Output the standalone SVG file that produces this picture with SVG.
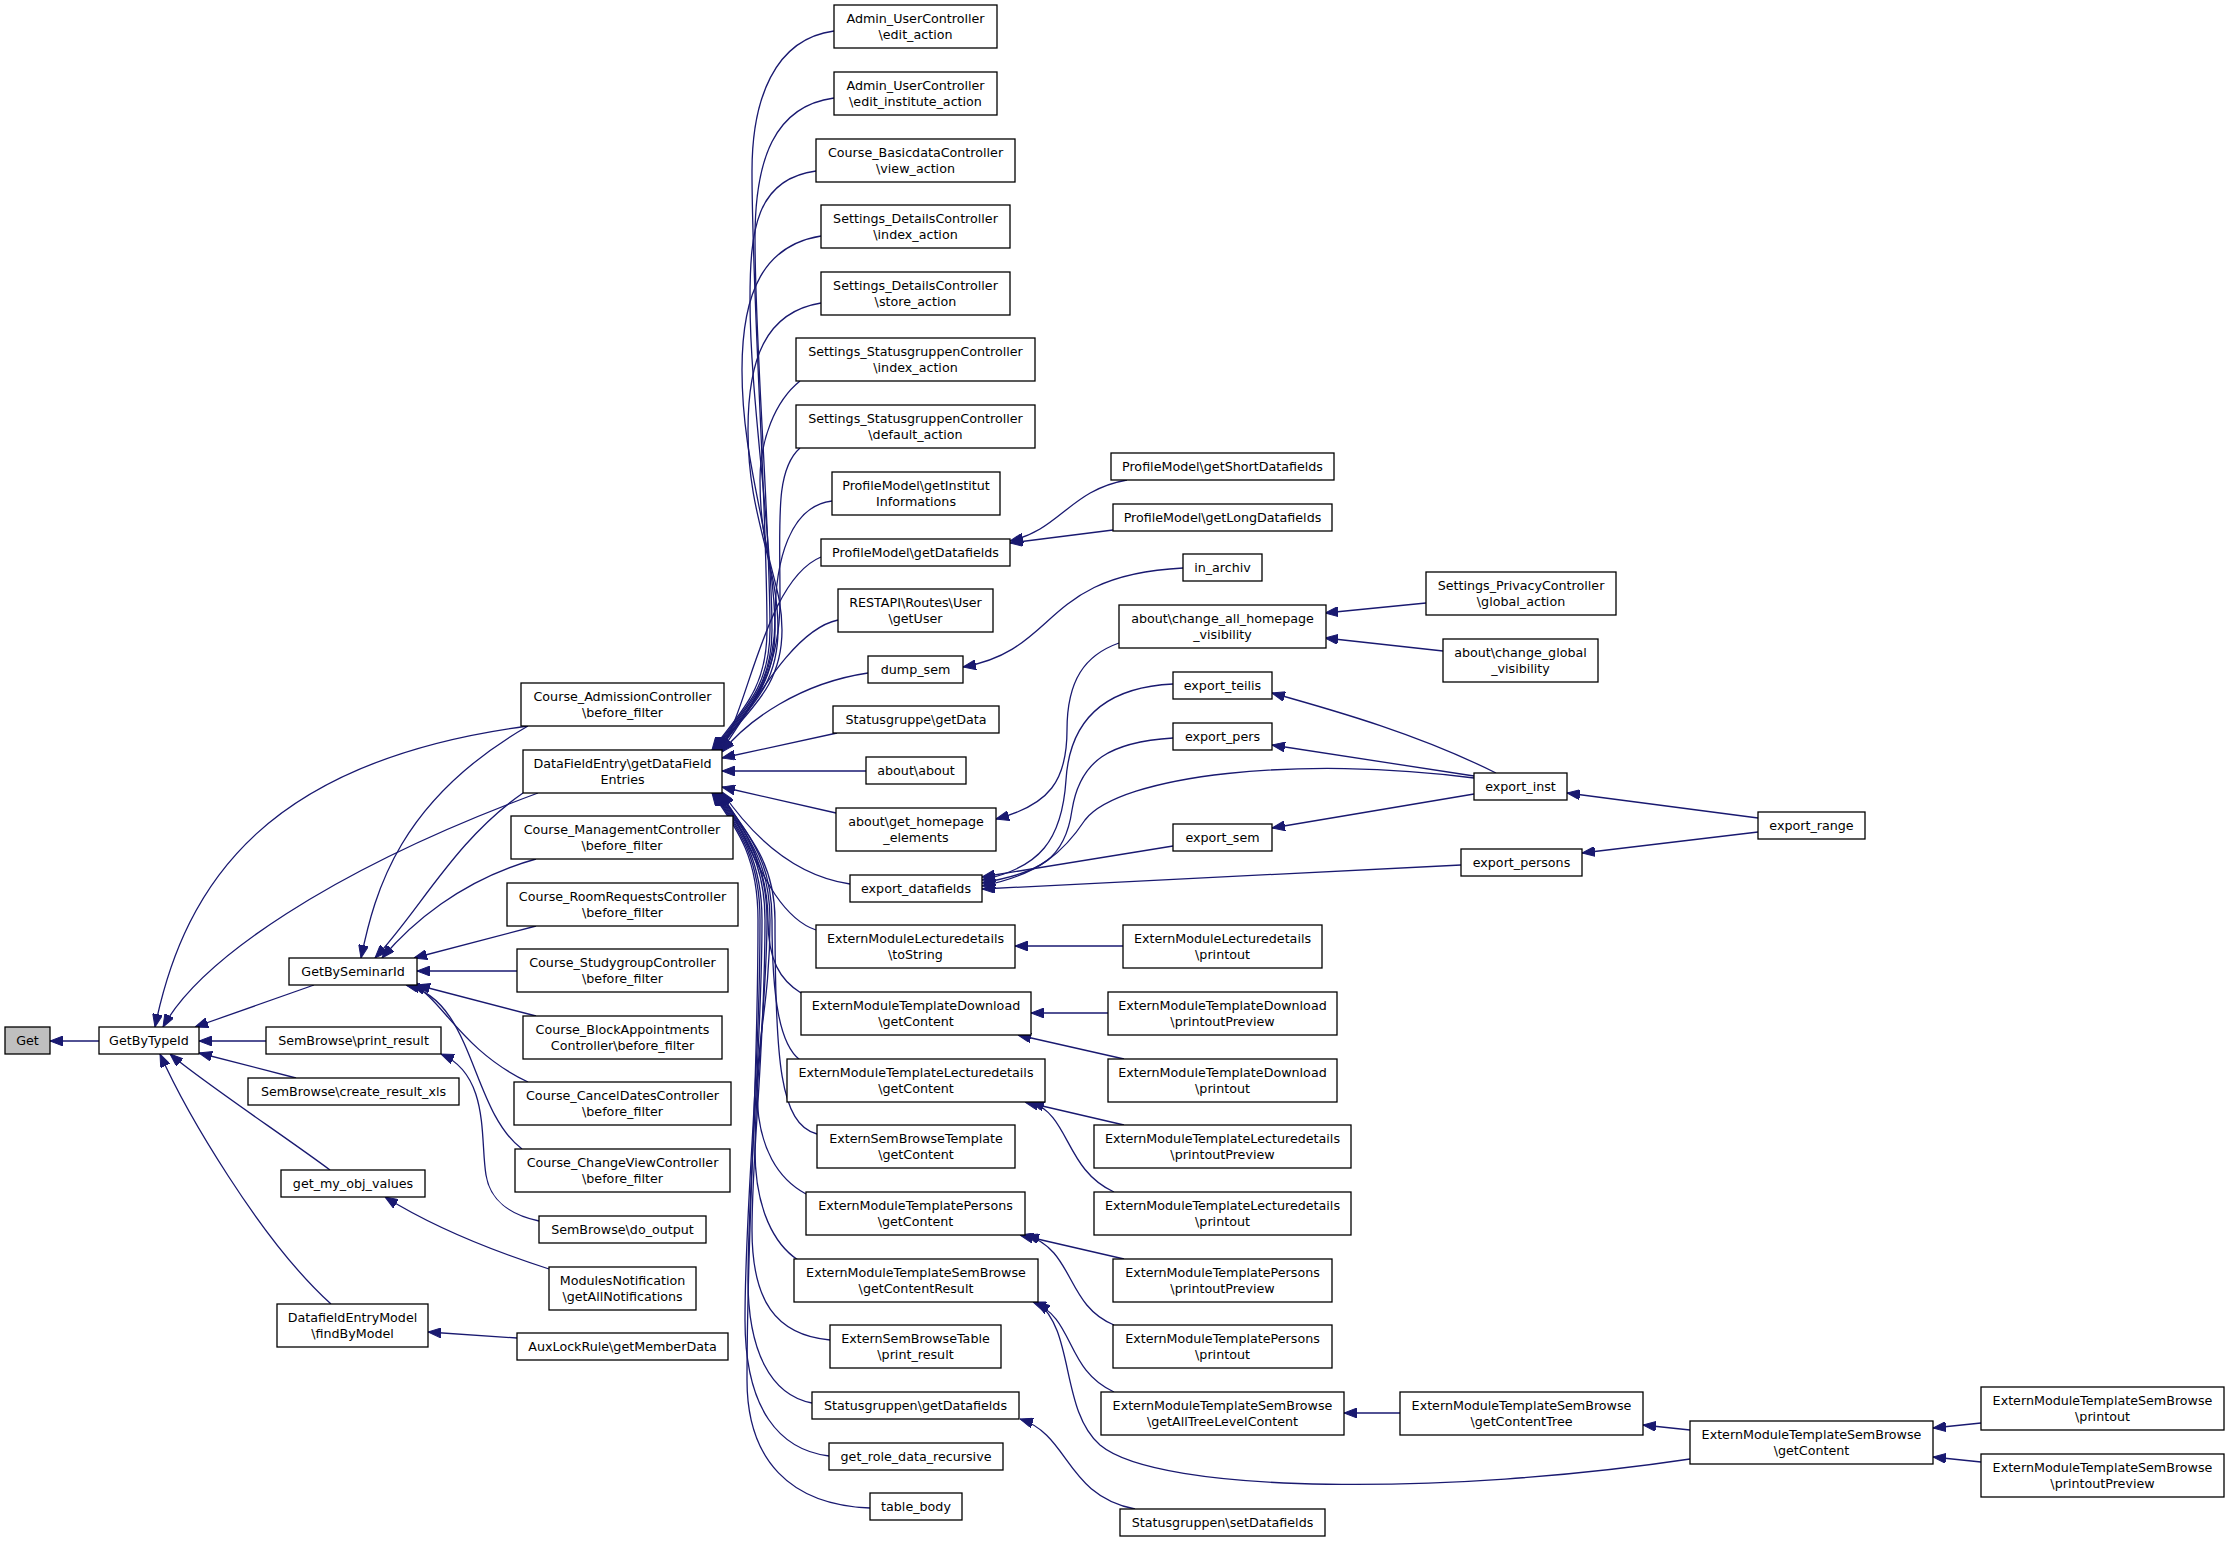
<svg xmlns="http://www.w3.org/2000/svg" width="2229" height="1541" viewBox="0 0 2229 1541">
<style>
.n rect{fill:#ffffff;stroke:#000000;stroke-width:1.3}
.n text{font-family:"DejaVu Sans","Liberation Sans",sans-serif;font-size:12.7px;text-anchor:middle;fill:#000000}
#edges path{fill:none;stroke:#191970;stroke-width:1.3;marker-start:url(#ah)}
</style>
<defs>
<marker id="ah" viewBox="0 0 13 10" refX="13" refY="5" markerWidth="13" markerHeight="10" markerUnits="userSpaceOnUse" orient="auto-start-reverse">
<path d="M0,0 L13,5 L0,10 z" fill="#191970" stroke="#191970" stroke-width="1"/>
</marker>
</defs>
<rect x="0" y="0" width="2229" height="1541" fill="#ffffff"/>
<g id="edges">
<path d="M50,1041 L99,1041"/>
<path d="M155,1027 C185,880 270,760 528,726"/>
<path d="M163,1027 C200,960 330,870 538,793"/>
<path d="M195,1027 L314,985"/>
<path d="M199,1041 L266,1041"/>
<path d="M199,1053 L296,1078"/>
<path d="M170,1054 C200,1080 290,1140 330,1170"/>
<path d="M160,1054 C185,1110 260,1240 331,1304"/>
<path d="M361,958 C375,890 400,800 528,726"/>
<path d="M375,958 C420,910 455,840 523,793"/>
<path d="M382,958 C410,925 460,880 536,859"/>
<path d="M414,958 L536,926"/>
<path d="M417,971 L517,971"/>
<path d="M417,985 L536,1016"/>
<path d="M412,985 C440,995 460,1050 528,1082"/>
<path d="M406,985 C475,1000 470,1110 522,1149"/>
<path d="M441,1054 C490,1075 480,1140 486,1175 C490,1200 510,1215 539,1221"/>
<path d="M385,1197 C430,1225 490,1250 549,1269"/>
<path d="M428,1332 L517,1338"/>
<path d="M712,750 C740,712 767,690 767,630 C767,500 752,300 752,171 C752,100 774,39 834,31"/>
<path d="M713,750 C741,712 770,690 770,630 C770,520 755,350 755,238 C755,160 774,106 834,98"/>
<path d="M714,750 C742,712 772,690 772,630 C772,530 750,400 750,300 C750,230 756,179 816,171"/>
<path d="M715,750 C743,712 775,690 775,630 C775,540 742,470 742,370 C742,290 765,245 821,236"/>
<path d="M716,750 C744,712 778,690 778,630 C778,560 748,520 748,430 C748,360 765,312 821,303"/>
<path d="M717,750 C745,712 782,690 782,630 C782,580 760,560 760,480 C760,440 775,401 800,381"/>
<path d="M718,750 C746,712 780,680 780,600 C780,520 775,470 800,448"/>
<path d="M719,750 C747,712 775,680 775,620 C775,560 790,506 832,501"/>
<path d="M720,750 C748,712 765,580 821,557"/>
<path d="M721,751 C748,715 790,630 838,620"/>
<path d="M722,752 C748,720 800,683 868,673"/>
<path d="M722,758 L837,733"/>
<path d="M722,771 L866,771"/>
<path d="M722,787 L836,813"/>
<path d="M722,792 C748,830 790,875 850,884"/>
<path d="M721,793 C748,835 770,915 816,930"/>
<path d="M720,793 C748,832 768,870 768,920 C768,960 780,980 801,993"/>
<path d="M719,793 C747,832 772,860 772,920 C772,1000 780,1045 800,1060"/>
<path d="M718,793 C746,832 775,860 775,920 C775,1060 780,1125 817,1134"/>
<path d="M717,793 C745,832 770,860 770,920 C770,1000 757,1040 757,1090 C757,1150 780,1180 806,1194"/>
<path d="M716,793 C744,832 767,860 767,920 C767,1000 755,1080 755,1150 C755,1210 775,1245 798,1260"/>
<path d="M715,793 C743,832 765,860 765,920 C765,1050 752,1150 752,1230 C752,1300 775,1335 830,1340"/>
<path d="M714,793 C742,832 762,860 762,920 C762,1050 748,1180 748,1280 C748,1350 770,1395 812,1403"/>
<path d="M713,793 C741,832 760,860 760,920 C760,1080 745,1200 745,1320 C745,1410 780,1450 829,1456"/>
<path d="M712,793 C740,832 758,860 758,920 C758,1100 747,1220 747,1380 C747,1460 790,1505 870,1508"/>
<path d="M1010,541 C1060,530 1070,490 1127,480"/>
<path d="M1010,543 L1113,530"/>
<path d="M963,667 C1060,650 1040,575 1183,568"/>
<path d="M996,819 C1050,805 1067,780 1067,730 C1067,680 1085,655 1119,643"/>
<path d="M1325,613 L1426,603"/>
<path d="M1325,638 L1443,651"/>
<path d="M982,880 C1040,868 1062,840 1066,780 C1070,715 1110,687 1173,684"/>
<path d="M982,883 C1040,872 1065,860 1072,810 C1080,760 1110,742 1173,738"/>
<path d="M982,886 C1040,875 1065,850 1085,820 C1120,775 1300,755 1474,778"/>
<path d="M982,877 L1173,846"/>
<path d="M982,889 L1461,865"/>
<path d="M1272,693 C1340,712 1420,735 1496,773"/>
<path d="M1272,745 L1474,776"/>
<path d="M1272,828 L1474,794"/>
<path d="M1567,793 L1758,818"/>
<path d="M1582,853 L1758,832"/>
<path d="M1015,946 L1123,946"/>
<path d="M1031,1013 L1108,1013"/>
<path d="M1018,1035 L1124,1059"/>
<path d="M1025,1102 L1124,1125"/>
<path d="M1031,1102 C1070,1115 1065,1170 1114,1192"/>
<path d="M1020,1235 L1124,1259"/>
<path d="M1026,1235 C1075,1250 1065,1305 1114,1325"/>
<path d="M1033,1302 C1075,1318 1065,1370 1114,1392"/>
<path d="M1037,1302 C1075,1330 1060,1410 1100,1445 C1160,1495 1450,1495 1690,1459"/>
<path d="M1344,1413 L1400,1413"/>
<path d="M1643,1425 L1690,1430"/>
<path d="M1933,1428 L1981,1423"/>
<path d="M1933,1457 L1981,1462"/>
<path d="M1020,1419 C1070,1435 1065,1495 1135,1509"/>
</g>
<g id="n_get" class="n"><rect x="5" y="1027" width="45" height="27" style="fill:#bfbfbf"/><text x="27.5" y="1045">Get</text></g>
<g id="n_getbytypeid" class="n"><rect x="99" y="1027" width="100" height="27"/><text x="149" y="1045">GetByTypeId</text></g>
<g id="n_getbyseminarid" class="n"><rect x="289" y="958" width="128" height="27"/><text x="353" y="976">GetBySeminarId</text></g>
<g id="n_sb_print_result" class="n"><rect x="266" y="1027" width="175" height="27"/><text x="353.5" y="1045">SemBrowse\print_result</text></g>
<g id="n_sb_create_xls" class="n"><rect x="248" y="1078" width="211" height="27"/><text x="353.5" y="1096">SemBrowse\create_result_xls</text></g>
<g id="n_get_my_obj" class="n"><rect x="281" y="1170" width="144" height="27"/><text x="353" y="1188">get_my_obj_values</text></g>
<g id="n_dfemodel" class="n"><rect x="277" y="1304" width="151" height="43"/><text x="352.5" y="1322">DatafieldEntryModel</text><text x="352.5" y="1337.5">\findByModel</text></g>
<g id="n_c_admission" class="n"><rect x="521" y="683" width="203" height="43"/><text x="622.5" y="701">Course_AdmissionController</text><text x="622.5" y="716.5">\before_filter</text></g>
<g id="n_dfe" class="n"><rect x="523" y="750" width="199" height="43"/><text x="622.5" y="768">DataFieldEntry\getDataField</text><text x="622.5" y="783.5">Entries</text></g>
<g id="n_c_management" class="n"><rect x="511" y="816" width="222" height="43"/><text x="622" y="834">Course_ManagementController</text><text x="622" y="849.5">\before_filter</text></g>
<g id="n_c_roomreq" class="n"><rect x="507" y="883" width="231" height="43"/><text x="622.5" y="901">Course_RoomRequestsController</text><text x="622.5" y="916.5">\before_filter</text></g>
<g id="n_c_studygroup" class="n"><rect x="517" y="949" width="211" height="43"/><text x="622.5" y="967">Course_StudygroupController</text><text x="622.5" y="982.5">\before_filter</text></g>
<g id="n_c_blockapp" class="n"><rect x="523" y="1016" width="199" height="43"/><text x="622.5" y="1034">Course_BlockAppointments</text><text x="622.5" y="1049.5">Controller\before_filter</text></g>
<g id="n_c_canceldates" class="n"><rect x="514" y="1082" width="217" height="43"/><text x="622.5" y="1100">Course_CancelDatesController</text><text x="622.5" y="1115.5">\before_filter</text></g>
<g id="n_c_changeview" class="n"><rect x="515" y="1149" width="215" height="43"/><text x="622.5" y="1167">Course_ChangeViewController</text><text x="622.5" y="1182.5">\before_filter</text></g>
<g id="n_sb_do_output" class="n"><rect x="539" y="1216" width="167" height="27"/><text x="622.5" y="1234">SemBrowse\do_output</text></g>
<g id="n_modnotif" class="n"><rect x="549" y="1267" width="147" height="43"/><text x="622.5" y="1285">ModulesNotification</text><text x="622.5" y="1300.5">\getAllNotifications</text></g>
<g id="n_auxlock" class="n"><rect x="517" y="1333" width="211" height="27"/><text x="622.5" y="1351">AuxLockRule\getMemberData</text></g>
<g id="n_admin_edit" class="n"><rect x="834" y="5" width="163" height="43"/><text x="915.5" y="23">Admin_UserController</text><text x="915.5" y="38.5">\edit_action</text></g>
<g id="n_admin_edit_inst" class="n"><rect x="834" y="72" width="163" height="43"/><text x="915.5" y="90">Admin_UserController</text><text x="915.5" y="105.5">\edit_institute_action</text></g>
<g id="n_basicdata" class="n"><rect x="816" y="139" width="199" height="43"/><text x="915.5" y="157">Course_BasicdataController</text><text x="915.5" y="172.5">\view_action</text></g>
<g id="n_sd_index" class="n"><rect x="821" y="205" width="189" height="43"/><text x="915.5" y="223">Settings_DetailsController</text><text x="915.5" y="238.5">\index_action</text></g>
<g id="n_sd_store" class="n"><rect x="821" y="272" width="189" height="43"/><text x="915.5" y="290">Settings_DetailsController</text><text x="915.5" y="305.5">\store_action</text></g>
<g id="n_sg_index" class="n"><rect x="796" y="338" width="239" height="43"/><text x="915.5" y="356">Settings_StatusgruppenController</text><text x="915.5" y="371.5">\index_action</text></g>
<g id="n_sg_default" class="n"><rect x="796" y="405" width="239" height="43"/><text x="915.5" y="423">Settings_StatusgruppenController</text><text x="915.5" y="438.5">\default_action</text></g>
<g id="n_pm_institut" class="n"><rect x="832" y="472" width="168" height="43"/><text x="916" y="490">ProfileModel\getInstitut</text><text x="916" y="505.5">Informations</text></g>
<g id="n_pm_datafields" class="n"><rect x="821" y="539" width="189" height="27"/><text x="915.5" y="557">ProfileModel\getDatafields</text></g>
<g id="n_restapi" class="n"><rect x="838" y="589" width="155" height="43"/><text x="915.5" y="607">RESTAPI\Routes\User</text><text x="915.5" y="622.5">\getUser</text></g>
<g id="n_dump_sem" class="n"><rect x="868" y="656" width="95" height="27"/><text x="915.5" y="674">dump_sem</text></g>
<g id="n_sg_getdata" class="n"><rect x="833" y="706" width="166" height="27"/><text x="916" y="724">Statusgruppe\getData</text></g>
<g id="n_about_about" class="n"><rect x="866" y="757" width="100" height="27"/><text x="916" y="775">about\about</text></g>
<g id="n_about_homepage" class="n"><rect x="836" y="808" width="160" height="43"/><text x="916" y="826">about\get_homepage</text><text x="916" y="841.5">_elements</text></g>
<g id="n_export_datafields" class="n"><rect x="850" y="875" width="132" height="27"/><text x="916" y="893">export_datafields</text></g>
<g id="n_eml_tostring" class="n"><rect x="816" y="925" width="199" height="43"/><text x="915.5" y="943">ExternModuleLecturedetails</text><text x="915.5" y="958.5">\toString</text></g>
<g id="n_emtd_getcontent" class="n"><rect x="801" y="992" width="230" height="43"/><text x="916" y="1010">ExternModuleTemplateDownload</text><text x="916" y="1025.5">\getContent</text></g>
<g id="n_emtl_getcontent" class="n"><rect x="787" y="1059" width="258" height="43"/><text x="916" y="1077">ExternModuleTemplateLecturedetails</text><text x="916" y="1092.5">\getContent</text></g>
<g id="n_esbt_getcontent" class="n"><rect x="817" y="1125" width="198" height="43"/><text x="916" y="1143">ExternSemBrowseTemplate</text><text x="916" y="1158.5">\getContent</text></g>
<g id="n_emtp_getcontent" class="n"><rect x="806" y="1192" width="219" height="43"/><text x="915.5" y="1210">ExternModuleTemplatePersons</text><text x="915.5" y="1225.5">\getContent</text></g>
<g id="n_emtsb_result" class="n"><rect x="794" y="1259" width="244" height="43"/><text x="916" y="1277">ExternModuleTemplateSemBrowse</text><text x="916" y="1292.5">\getContentResult</text></g>
<g id="n_esbtable" class="n"><rect x="830" y="1325" width="171" height="43"/><text x="915.5" y="1343">ExternSemBrowseTable</text><text x="915.5" y="1358.5">\print_result</text></g>
<g id="n_sgn_getdf" class="n"><rect x="812" y="1392" width="207" height="27"/><text x="915.5" y="1410">Statusgruppen\getDatafields</text></g>
<g id="n_get_role" class="n"><rect x="829" y="1443" width="174" height="27"/><text x="916" y="1461">get_role_data_recursive</text></g>
<g id="n_table_body" class="n"><rect x="870" y="1493" width="92" height="27"/><text x="916" y="1511">table_body</text></g>
<g id="n_pm_short" class="n"><rect x="1111" y="453" width="223" height="27"/><text x="1222.5" y="471">ProfileModel\getShortDatafields</text></g>
<g id="n_pm_long" class="n"><rect x="1113" y="504" width="219" height="27"/><text x="1222.5" y="522">ProfileModel\getLongDatafields</text></g>
<g id="n_in_archiv" class="n"><rect x="1183" y="554" width="79" height="27"/><text x="1222.5" y="572">in_archiv</text></g>
<g id="n_change_all" class="n"><rect x="1119" y="605" width="207" height="43"/><text x="1222.5" y="623">about\change_all_homepage</text><text x="1222.5" y="638.5">_visibility</text></g>
<g id="n_export_teilis" class="n"><rect x="1173" y="672" width="99" height="27"/><text x="1222.5" y="690">export_teilis</text></g>
<g id="n_export_pers" class="n"><rect x="1173" y="723" width="99" height="27"/><text x="1222.5" y="741">export_pers</text></g>
<g id="n_export_sem" class="n"><rect x="1173" y="824" width="99" height="27"/><text x="1222.5" y="842">export_sem</text></g>
<g id="n_eml_printout" class="n"><rect x="1123" y="925" width="199" height="43"/><text x="1222.5" y="943">ExternModuleLecturedetails</text><text x="1222.5" y="958.5">\printout</text></g>
<g id="n_emtd_preview" class="n"><rect x="1108" y="992" width="229" height="43"/><text x="1222.5" y="1010">ExternModuleTemplateDownload</text><text x="1222.5" y="1025.5">\printoutPreview</text></g>
<g id="n_emtd_printout" class="n"><rect x="1108" y="1059" width="229" height="43"/><text x="1222.5" y="1077">ExternModuleTemplateDownload</text><text x="1222.5" y="1092.5">\printout</text></g>
<g id="n_emtl_preview" class="n"><rect x="1094" y="1125" width="257" height="43"/><text x="1222.5" y="1143">ExternModuleTemplateLecturedetails</text><text x="1222.5" y="1158.5">\printoutPreview</text></g>
<g id="n_emtl_printout" class="n"><rect x="1094" y="1192" width="257" height="43"/><text x="1222.5" y="1210">ExternModuleTemplateLecturedetails</text><text x="1222.5" y="1225.5">\printout</text></g>
<g id="n_emtp_preview" class="n"><rect x="1113" y="1259" width="219" height="43"/><text x="1222.5" y="1277">ExternModuleTemplatePersons</text><text x="1222.5" y="1292.5">\printoutPreview</text></g>
<g id="n_emtp_printout" class="n"><rect x="1113" y="1325" width="219" height="43"/><text x="1222.5" y="1343">ExternModuleTemplatePersons</text><text x="1222.5" y="1358.5">\printout</text></g>
<g id="n_emtsb_alltree" class="n"><rect x="1101" y="1392" width="243" height="43"/><text x="1222.5" y="1410">ExternModuleTemplateSemBrowse</text><text x="1222.5" y="1425.5">\getAllTreeLevelContent</text></g>
<g id="n_sgn_setdf" class="n"><rect x="1120" y="1509" width="205" height="27"/><text x="1222.5" y="1527">Statusgruppen\setDatafields</text></g>
<g id="n_privacy" class="n"><rect x="1426" y="572" width="190" height="43"/><text x="1521" y="590">Settings_PrivacyController</text><text x="1521" y="605.5">\global_action</text></g>
<g id="n_change_global" class="n"><rect x="1443" y="639" width="155" height="43"/><text x="1520.5" y="657">about\change_global</text><text x="1520.5" y="672.5">_visibility</text></g>
<g id="n_export_inst" class="n"><rect x="1474" y="773" width="93" height="27"/><text x="1520.5" y="791">export_inst</text></g>
<g id="n_export_persons" class="n"><rect x="1461" y="849" width="121" height="27"/><text x="1521.5" y="867">export_persons</text></g>
<g id="n_emtsb_tree" class="n"><rect x="1400" y="1392" width="243" height="43"/><text x="1521.5" y="1410">ExternModuleTemplateSemBrowse</text><text x="1521.5" y="1425.5">\getContentTree</text></g>
<g id="n_export_range" class="n"><rect x="1758" y="812" width="107" height="27"/><text x="1811.5" y="830">export_range</text></g>
<g id="n_emtsb_getcontent" class="n"><rect x="1690" y="1421" width="243" height="43"/><text x="1811.5" y="1439">ExternModuleTemplateSemBrowse</text><text x="1811.5" y="1454.5">\getContent</text></g>
<g id="n_emtsb_printout" class="n"><rect x="1981" y="1387" width="243" height="43"/><text x="2102.5" y="1405">ExternModuleTemplateSemBrowse</text><text x="2102.5" y="1420.5">\printout</text></g>
<g id="n_emtsb_preview" class="n"><rect x="1981" y="1454" width="243" height="43"/><text x="2102.5" y="1472">ExternModuleTemplateSemBrowse</text><text x="2102.5" y="1487.5">\printoutPreview</text></g>
</svg>
